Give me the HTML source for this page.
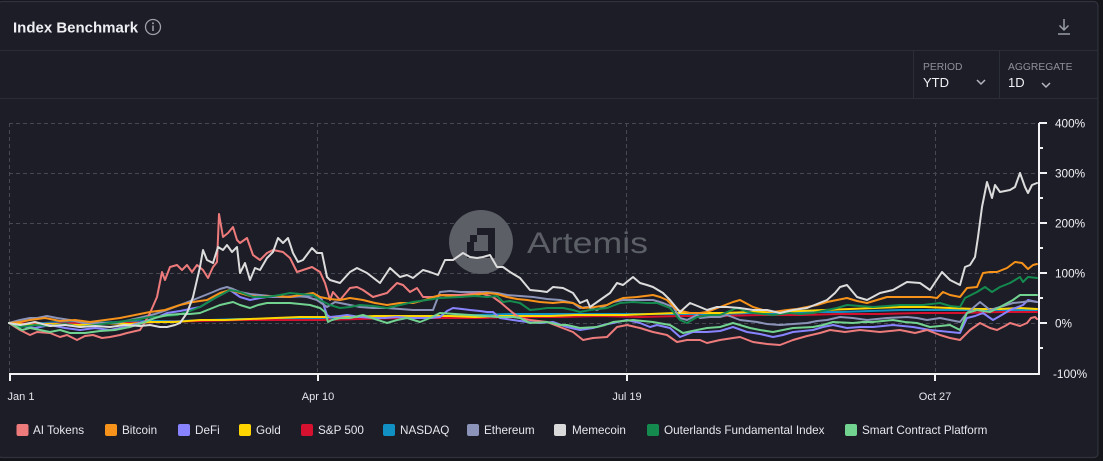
<!DOCTYPE html>
<html><head><meta charset="utf-8"><style>
html,body{margin:0;padding:0;background:#15161c;width:1103px;height:461px;overflow:hidden;}
svg{display:block;font-family:"Liberation Sans",sans-serif;}
</style></head><body>
<svg width="1103" height="461" viewBox="0 0 1103 461" xmlns="http://www.w3.org/2000/svg">
<rect x="-2" y="1.5" width="1100" height="456" rx="4" fill="#1c1d27" stroke="#30323c" stroke-width="1.2"/>
<line x1="0" y1="50.5" x2="1098" y2="50.5" stroke="#2c2e37" stroke-width="1"/>
<line x1="0" y1="98.5" x2="1098" y2="98.5" stroke="#2c2e37" stroke-width="1"/>
<line x1="913.5" y1="51" x2="913.5" y2="98" stroke="#2c2e37" stroke-width="1"/>
<line x1="999.5" y1="51" x2="999.5" y2="98" stroke="#2c2e37" stroke-width="1"/>
<text x="13" y="32.5" font-size="15" font-weight="bold" fill="#eeeef3">Index Benchmark</text>
<circle cx="153" cy="27" r="7.5" fill="none" stroke="#a0a0aa" stroke-width="1.3"/>
<circle cx="153" cy="23.3" r="1" fill="#a0a0aa"/>
<line x1="153" y1="25.5" x2="153" y2="31" stroke="#a0a0aa" stroke-width="1.5"/>
<g stroke="#9a9ca6" stroke-width="1.5" fill="none">
<line x1="1064" y1="19" x2="1064" y2="30"/>
<polyline points="1059.5,25.5 1064,30 1068.5,25.5"/>
<line x1="1058" y1="34" x2="1070" y2="34"/>
</g>
<text x="923" y="70" font-size="10.3" fill="#8e909c">PERIOD</text>
<text x="923" y="87" font-size="13" fill="#f0f0f5">YTD</text>
<polyline points="977,80 981,84 985,80" fill="none" stroke="#b5b6c0" stroke-width="1.5"/>
<text x="1008" y="70" font-size="10.3" fill="#8e909c">AGGREGATE</text>
<text x="1008" y="87" font-size="13" fill="#f0f0f5">1D</text>
<polyline points="1042,83 1046,87 1050,83" fill="none" stroke="#b5b6c0" stroke-width="1.5"/>

<g stroke="#474952" stroke-width="1" stroke-dasharray="4 3" fill="none">
<line x1="9" y1="123.5" x2="1039" y2="123.5"/>
<line x1="9" y1="173.5" x2="1039" y2="173.5"/>
<line x1="9" y1="223.5" x2="1039" y2="223.5"/>
<line x1="9" y1="273.5" x2="1039" y2="273.5"/>
<line x1="9" y1="323.5" x2="1039" y2="323.5"/>
<line x1="9.5" y1="123" x2="9.5" y2="374"/>
<line x1="317.5" y1="123" x2="317.5" y2="374"/>
<line x1="626.5" y1="123" x2="626.5" y2="374"/>
<line x1="935.5" y1="123" x2="935.5" y2="374"/>
</g>

<circle cx="481" cy="242" r="32" fill="#5d5f67"/>
<g fill="#1c1d27">
<rect x="477" y="228" width="18" height="7"/>
<rect x="488" y="228" width="7" height="30"/>
<rect x="467" y="251" width="28" height="7"/>
<rect x="467" y="242" width="7" height="16"/>
<rect x="470" y="235" width="7" height="7"/>
</g>
<text x="527" y="253" font-size="30" fill="#5d5f67" textLength="121" lengthAdjust="spacingAndGlyphs">Artemis</text>

<g fill="none" stroke-width="2" stroke-linejoin="round" stroke-linecap="round">
<polyline stroke="#1190c4" points="9,323 30,324 60,322 90,323 120,322 150,321 180,321 210,320 240,319 270,319 300,318 330,319 360,318 390,318 420,317 450,316 480,315 510,314 540,314 570,314 600,314 630,314 660,314 690,314 720,314 750,313 780,313 810,312 840,312 870,311 900,310 930,310 960,310 990,310 1037,310"/>
<polyline stroke="#d6112f" points="9,323 40,324 80,323 120,323 160,322 200,321 240,320 280,320 320,320 360,319 400,318 440,318 480,318 520,317 560,317 600,316 640,317 680,316 720,316 760,315 800,315 840,314 880,314 920,313 960,313 1000,312 1037,312"/>
<polyline stroke="#ffd500" points="9,323 30,325 50,324 80,325 100,323 130,324 150,322 175,322 200,320 225,320 250,319 275,318 300,317 325,317 350,317 375,316 400,316 425,316 450,316 475,317 500,316 525,316 550,316 575,315 600,315 625,315 650,314 675,313 700,313 725,313 750,312 775,312 800,311 825,310 850,309 875,308 900,307 925,307 950,308 975,309 1000,309 1020,308 1037,309"/>
<polyline stroke="#8884ff" points="9,323 20,326 35,328 50,325 65,328 80,330 95,328 110,330 125,327 140,323 155,318 167,313 180,311 190,309 200,307 215,298 230,290 240,297 250,300 260,298 267,297 280,297 290,297 305,296 317,295 322,300 327,315 330,317 340,316 347,315 360,317 373,318 385,318 397,317 410,318 420,318 430,318 440,317 447,311 453,308 462,309 470,310 480,311 487,312 493,312 500,318 513,320 527,322 540,323 553,322 567,327 580,330 593,328 603,325 613,323 627,320 640,323 650,327 657,325 670,328 680,337 693,332 707,332 720,331 733,327 747,332 760,334 773,337 783,335 793,332 803,331 813,330 823,327 833,325 847,328 860,327 873,327 883,326 893,325 913,327 930,330 950,332 960,333 967,318 975,316 983,313 993,320 1000,316 1010,310 1018,307 1023,305 1028,300 1037,302"/>
<polyline stroke="#8b93b8" points="9,323 20,320 30,318 37,318 47,316 57,318 70,320 83,323 100,323 117,323 130,320 143,317 155,314 167,310 180,305 193,300 203,296 213,292 220,289 227,287 233,289 240,292 250,294 260,295 270,296 283,297 295,296 307,297 317,300 327,307 335,302 340,303 350,305 360,307 373,308 387,308 400,309 413,310 425,310 433,310 440,292 450,291 460,292 475,292 487,292 497,293 507,295 520,296 533,297 547,299 560,300 573,303 580,308 587,307 597,310 605,306 613,302 623,300 633,300 647,300 653,300 663,303 673,307 680,318 687,320 697,315 700,318 710,317 720,317 727,315 740,320 757,322 767,324 780,325 793,324 807,323 817,321 827,320 840,317 853,318 867,320 877,319 887,318 907,317 917,318 927,320 940,318 950,320 960,322 967,313 973,308 980,302 990,310 1000,307 1013,303 1023,302 1030,301 1037,302"/>
<polyline stroke="#ee7b7b" points="9,323 20,330 30,335 37,332 50,333 60,337 67,335 77,340 85,336 93,335 102,338 110,337 120,335 127,333 140,330 145,322 150,313 157,297 162,272 165,280 170,267 177,265 182,270 187,265 192,272 197,265 203,270 208,278 213,267 217,262 219,214 223,237 228,233 233,227 237,240 240,243 247,238 253,255 260,260 267,253 273,250 283,252 290,258 297,272 303,270 312,267 320,272 325,283 330,300 333,292 340,300 350,288 357,287 363,290 373,297 387,293 397,283 403,285 410,292 417,288 423,297 433,297 443,295 460,295 480,293 493,297 500,302 507,308 513,313 520,318 530,320 547,322 560,327 573,332 583,340 593,338 607,337 617,327 627,325 640,328 653,332 667,335 677,342 687,340 700,340 707,343 720,340 733,338 740,337 753,342 767,344 780,345 793,340 807,336 820,333 830,330 845,332 860,330 880,332 900,330 915,333 927,330 940,335 950,338 960,340 970,330 980,323 990,328 997,330 1005,326 1010,323 1020,326 1027,323 1031,318 1035,317 1037,319"/>
<polyline stroke="#f7931a" points="9,323 20,322 30,320 45,318 60,321 75,320 90,322 105,320 120,318 135,315 150,312 165,310 180,305 193,302 207,300 220,293 230,290 240,293 250,296 260,297 275,296 290,297 300,295 313,293 320,297 330,299 340,300 350,298 363,300 375,303 387,305 400,303 413,303 425,300 440,295 450,296 460,297 475,295 487,293 497,294 507,297 517,299 527,300 540,302 553,303 563,302 573,303 583,308 595,307 607,305 615,301 623,298 637,297 653,295 660,297 667,300 677,310 690,313 700,313 707,312 720,307 733,302 740,300 753,307 763,310 773,312 787,310 797,309 807,307 817,305 827,302 837,300 847,298 857,301 867,303 877,300 887,297 907,297 920,297 930,297 937,298 943,292 950,295 960,297 967,288 977,287 983,273 990,272 997,272 1007,268 1015,262 1022,263 1028,269 1033,265 1037,264"/>
<polyline stroke="#148a4e" points="9,323 20,327 35,325 50,326 65,324 80,327 95,325 110,323 125,321 140,319 150,317 165,316 177,315 190,311 200,307 215,298 230,290 240,292 253,297 267,297 280,295 290,293 300,294 313,295 320,300 330,305 340,308 350,307 360,305 373,306 387,308 400,305 413,302 427,300 440,298 460,297 475,296 487,297 497,296 503,302 510,301 520,303 530,310 540,309 547,308 563,308 573,310 580,312 590,310 607,308 620,303 633,302 647,303 657,303 670,308 680,320 687,323 697,317 710,315 720,315 737,308 745,311 753,313 763,314 773,315 790,313 800,314 813,313 827,310 837,308 847,305 860,306 873,307 887,306 900,305 923,305 940,303 950,306 960,307 965,298 977,292 985,287 992,292 1000,287 1010,283 1020,277 1023,282 1028,277 1037,278"/>
<polyline stroke="#72d28f" points="9,323 15,326 22,330 30,328 40,330 50,332 60,330 70,333 85,333 100,331 115,330 130,327 145,322 155,318 167,315 180,314 190,314 200,313 210,309 220,305 233,302 240,305 250,308 258,305 267,303 280,303 290,303 300,304 310,305 320,308 325,312 328,322 332,320 340,318 350,318 363,315 375,319 387,323 397,320 407,318 420,322 430,318 440,313 455,314 470,315 485,316 497,317 513,317 520,318 530,323 547,322 560,325 567,325 580,328 597,327 605,325 613,322 633,320 643,321 653,322 670,325 683,333 697,330 707,328 720,327 733,323 750,328 760,330 773,332 783,330 793,328 813,327 823,325 833,322 853,323 863,322 873,322 893,320 905,322 917,323 930,327 950,325 960,330 967,313 977,310 990,312 1000,307 1013,300 1020,295 1027,295 1037,295"/>
<polyline stroke="#dcdcdc" points="9,323 20,325 35,322 50,326 65,325 80,327 95,326 110,327 125,325 140,326 150,325 160,327 167,327 175,325 180,323 187,313 193,297 200,267 203,250 207,260 213,263 218,247 223,250 227,245 232,252 237,247 240,273 245,263 250,280 255,268 260,270 267,258 273,252 278,238 283,243 288,238 293,253 298,262 303,260 312,248 317,253 322,253 327,277 330,280 340,283 350,272 357,268 367,273 380,283 390,268 400,277 407,275 413,278 423,270 430,272 438,275 445,260 453,260 463,253 470,257 477,258 483,257 490,255 497,267 503,267 510,272 520,278 530,290 540,291 547,292 553,287 563,288 573,293 580,303 587,300 590,307 600,300 610,293 617,283 623,285 633,277 640,283 647,285 653,287 663,293 670,300 680,312 690,303 700,307 707,310 717,307 727,307 740,308 753,310 767,310 780,313 793,310 807,308 817,304 827,300 835,293 840,287 847,285 857,297 867,300 880,293 893,290 907,282 920,283 930,290 942,272 950,280 960,285 965,267 970,265 975,257 978,237 982,207 987,182 992,198 995,185 1000,192 1010,190 1015,187 1020,173 1025,187 1028,193 1032,185 1037,183"/>
</g>

<g stroke="#f2f2f5" stroke-width="2" fill="none">
<line x1="9" y1="374" x2="1040" y2="374"/>
<line x1="1039" y1="123" x2="1039" y2="375"/>
<line x1="10" y1="374" x2="10" y2="381"/>
<line x1="318" y1="374" x2="318" y2="381"/>
<line x1="627" y1="374" x2="627" y2="381"/>
<line x1="935" y1="374" x2="935" y2="381"/>
<line x1="1039" y1="123" x2="1047" y2="123"/>
<line x1="1039" y1="148" x2="1043" y2="148"/>
<line x1="1039" y1="173" x2="1047" y2="173"/>
<line x1="1039" y1="198" x2="1043" y2="198"/>
<line x1="1039" y1="223" x2="1047" y2="223"/>
<line x1="1039" y1="248" x2="1043" y2="248"/>
<line x1="1039" y1="273" x2="1047" y2="273"/>
<line x1="1039" y1="298" x2="1043" y2="298"/>
<line x1="1039" y1="323" x2="1047" y2="323"/>
<line x1="1039" y1="348" x2="1043" y2="348"/>
</g>
<g font-size="11.8" fill="#f0f0f4">
<text x="1055" y="127.5">400%</text>
<text x="1055" y="177.5">300%</text>
<text x="1055" y="227.5">200%</text>
<text x="1055" y="277.5">100%</text>
<text x="1055" y="327.5">0%</text>
<text x="1053" y="378">-100%</text>
</g>
<g font-size="11" fill="#e6e6ec" text-anchor="middle">
<text x="21" y="400">Jan 1</text>
<text x="318" y="400">Apr 10</text>
<text x="627" y="400">Jul 19</text>
<text x="935" y="400">Oct 27</text>
</g>

<g font-size="11.7" fill="#e6e6ec">
<rect x="16.5" y="424" width="12" height="12" rx="2" fill="#ee7b7b"/><text x="33" y="434.2">AI Tokens</text>
<rect x="105" y="424" width="12" height="12" rx="2" fill="#f7931a"/><text x="122" y="434.2">Bitcoin</text>
<rect x="178" y="424" width="12" height="12" rx="2" fill="#8884ff"/><text x="195" y="434.2">DeFi</text>
<rect x="239" y="424" width="12" height="12" rx="2" fill="#ffd500"/><text x="256" y="434.2">Gold</text>
<rect x="301" y="424" width="12" height="12" rx="2" fill="#d6112f"/><text x="318" y="434.2">S&amp;P 500</text>
<rect x="383" y="424" width="12" height="12" rx="2" fill="#1190c4"/><text x="400" y="434.2">NASDAQ</text>
<rect x="467" y="424" width="12" height="12" rx="2" fill="#8b93b8"/><text x="484" y="434.2">Ethereum</text>
<rect x="554" y="424" width="12" height="12" rx="2" fill="#d9d9d9"/><text x="572" y="434.2">Memecoin</text>
<rect x="647" y="424" width="12" height="12" rx="2" fill="#148a4e"/><text x="664" y="434.2">Outerlands Fundamental Index</text>
<rect x="845" y="424" width="12" height="12" rx="2" fill="#72d28f"/><text x="862" y="434.2">Smart Contract Platform</text>
</g>
</svg>
</body></html>
